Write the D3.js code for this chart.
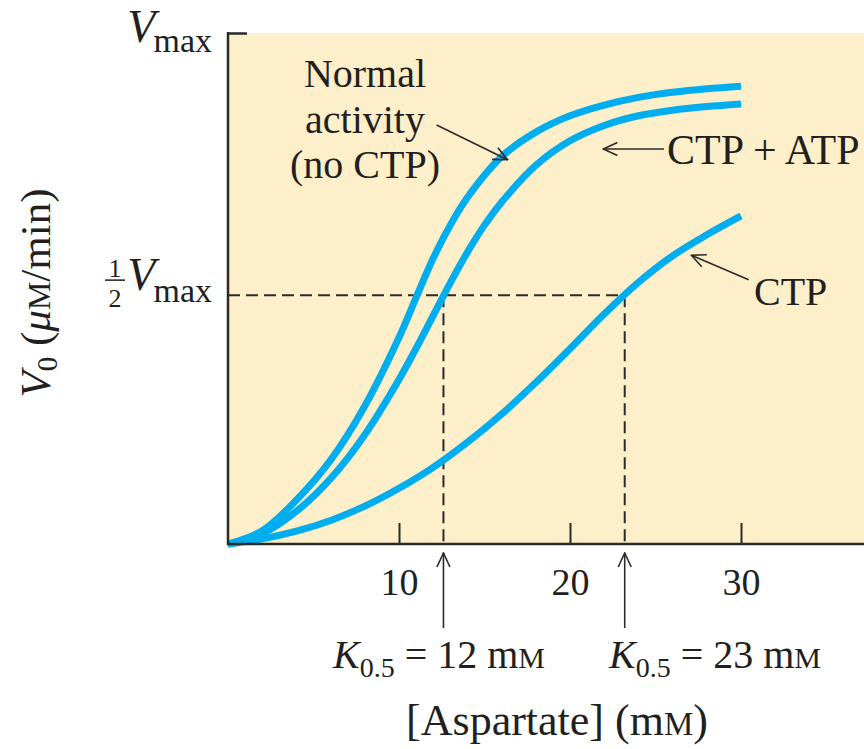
<!DOCTYPE html>
<html><head><meta charset="utf-8">
<script src="https://cdn.jsdelivr.net/npm/d3@7"></script>
<style>
body{margin:0;background:#fff}
svg{display:block}
text{font-family:"Liberation Serif","Times New Roman",serif;fill:#231f20}
</style>
</head><body>
<svg id="c" width="864" height="749"></svg>
<script>
// ---- data (x in mM aspartate, V0 as fraction of Vmax) ----
const normalX = [0,2,4,6,8,10,11,12,13,14,16,18,20,22,24,26,28,30];
const normalV = [0,0.026,0.086,0.164,0.270,0.404,0.482,0.559,0.624,0.678,0.758,0.806,0.838,0.859,0.874,0.884,0.891,0.896];
const ctpAtpX = [0,2,4,6,8,10,11,12,13,14,15,16,18,20,22,24,26,28,30];
const ctpAtpV = [0,0.020,0.064,0.128,0.214,0.322,0.383,0.447,0.511,0.571,0.624,0.669,0.741,0.789,0.819,0.838,0.849,0.856,0.861];
const ctpX = [0,2,4,6,8,10,12,14,16,18,20,22,24,26,28,30];
const ctpV = [0,0.010,0.025,0.046,0.074,0.109,0.150,0.199,0.254,0.316,0.382,0.450,0.512,0.564,0.605,0.642];
const xTicks = [10,20,30];
const halfV = 0.487;            // ½ Vmax reference level as drawn
const kHalfPos = [12.6, 23.2];  // drawn positions of the K0.5 markers
const kHalfLabels = ["12","23"];

const W = 864, H = 749;
const svg = d3.select("#c");
const x = d3.scaleLinear().domain([0,30]).range([228,741]);
const y = d3.scaleLinear().domain([0,1]).range([544,33]);
const ink = "#2b2b2b";
const blue = "#00aeef";

// defs: open arrowhead
svg.append("defs").append("marker")
  .attr("id","ah").attr("viewBox","0 0 16 16").attr("refX",15).attr("refY",8)
  .attr("markerWidth",16).attr("markerHeight",16).attr("markerUnits","userSpaceOnUse")
  .attr("orient","auto")
  .append("path").attr("d","M1,1.5 L15,8 L1,14.5").attr("fill","none")
  .attr("stroke",ink).attr("stroke-width",1.6);

// plot background
svg.append("rect").attr("x",x(0)).attr("y",y(1)).attr("width",W-x(0)).attr("height",y(0)-y(1))
  .attr("fill","#fdefc9");

// dashed reference lines
const dash = svg.append("g").attr("stroke",ink).attr("stroke-width",2).attr("stroke-dasharray","12,6").attr("fill","none");
dash.append("path").attr("d",`M${x(0)},${y(halfV)}H${x(kHalfPos[1])}`);
kHalfPos.forEach(k=>{
  dash.append("path").attr("d",`M${x(k)},${y(halfV)}V${y(0)}`);
});

// curves
const line = d3.line().x(d=>x(d[0])).y(d=>y(d[1])).curve(d3.curveCatmullRom.alpha(0.5));
[[normalX,normalV],[ctpAtpX,ctpAtpV],[ctpX,ctpV]].forEach(([xs,vs])=>{
  svg.append("path").datum(xs.map((v,i)=>[v,vs[i]]))
    .attr("d",line).attr("fill","none").attr("stroke",blue).attr("stroke-width",7);
});

// axes
const gx = svg.append("g").attr("transform",`translate(0,${y(0)})`)
  .call(d3.axisBottom(x).tickValues(xTicks).tickSize(-21).tickSizeOuter(0).tickPadding(24).tickFormat(d3.format("d")));
gx.select(".domain").remove();
gx.selectAll("line").attr("stroke",ink).attr("stroke-width",2);
gx.selectAll("text").style("font-size","38px").attr("fill","#231f20");
gx.attr("font-family",null).attr("font-size",null);

const gy = svg.append("g").attr("transform",`translate(${x(0)},0)`)
  .call(d3.axisLeft(y).tickValues([1]).tickSize(-19).tickSizeOuter(0).tickFormat(""));
gy.select(".domain").remove();
gy.selectAll("line").attr("stroke",ink).attr("stroke-width",2.5);

svg.append("path").attr("d",`M${x(0)},${y(1)-1}V${y(0)}H${W}`).attr("fill","none")
  .attr("stroke",ink).attr("stroke-width",2.5);

// y tick labels
const vmax = svg.append("text").attr("x",212).attr("y",y(1)+9).attr("text-anchor","end");
vmax.append("tspan").attr("font-style","italic").attr("font-size",46).text("V");
vmax.append("tspan").attr("font-size",34).attr("dy",10).attr("dx",-2).text("max");

const hy = y(halfV);
svg.append("text").attr("x",115).attr("y",hy-18).attr("text-anchor","middle").attr("font-size",26).text("1");
svg.append("line").attr("x1",105).attr("x2",125).attr("y1",hy-15).attr("y2",hy-15).attr("stroke",ink).attr("stroke-width",1.6);
svg.append("text").attr("x",115).attr("y",hy+12).attr("text-anchor","middle").attr("font-size",26).text("2");
const hv = svg.append("text").attr("x",212).attr("y",hy-5).attr("text-anchor","end");
hv.append("tspan").attr("font-style","italic").attr("font-size",46).text("V");
hv.append("tspan").attr("font-size",34).attr("dy",12).attr("dx",-2).text("max");

// y axis title
const yt = svg.append("text").attr("transform","translate(50,293) rotate(-90)").attr("text-anchor","middle").attr("font-size",43);
yt.append("tspan").attr("font-style","italic").text("V");
yt.append("tspan").attr("font-size",29).attr("dy",7).text("0");
yt.append("tspan").attr("dy",-7).text(" (");
yt.append("tspan").attr("font-style","italic").text("μ");
yt.append("tspan").attr("font-size",32).text("M");
yt.append("tspan").text("/min)");

// x axis title
const xt = svg.append("text").attr("x",557).attr("y",735).attr("text-anchor","middle").attr("font-size",44);
xt.append("tspan").text("[Aspartate] (m");
xt.append("tspan").attr("font-size",33).text("M");
xt.append("tspan").text(")");

// K0.5 arrows and labels
const kStart = [333, 609];
kHalfPos.forEach((k,i)=>{
  svg.append("line").attr("x1",x(k)).attr("x2",x(k)).attr("y1",y(0)+84).attr("y2",y(0)+9)
    .attr("stroke",ink).attr("stroke-width",1.6).attr("marker-end","url(#ah)");
  const t = svg.append("text").attr("x",kStart[i]).attr("y",668).attr("font-size",40);
  t.append("tspan").attr("font-style","italic").text("K");
  t.append("tspan").attr("font-size",28).attr("dy",9).text("0.5");
  t.append("tspan").attr("dy",-9).text(` = ${kHalfLabels[i]} m`);
  t.append("tspan").attr("font-size",30).text("M");
});

// curve annotations (positions in data units)
function arrow(x1,v1,x2,v2){
  svg.append("line").attr("x1",x(x1)).attr("y1",y(v1)).attr("x2",x(x2)).attr("y2",y(v2))
    .attr("stroke",ink).attr("stroke-width",1.6).attr("marker-end","url(#ah)");
}
const na = svg.append("text").attr("text-anchor","middle").attr("font-size",40);
["Normal","activity","(no CTP)"].forEach((s,i)=>{
  na.append("tspan").attr("x",365).attr("y",87+i*45.5).text(s);
});
arrow(12.2,0.820,16.35,0.752);

svg.append("text").attr("x",667).attr("y",164).attr("font-size",42).text("CTP + ATP");
arrow(25.5,0.773,21.95,0.773);

svg.append("text").attr("x",754).attr("y",305).attr("font-size",40).text("CTP");
arrow(30.45,0.517,27.1,0.565);
</script>
</body></html>
